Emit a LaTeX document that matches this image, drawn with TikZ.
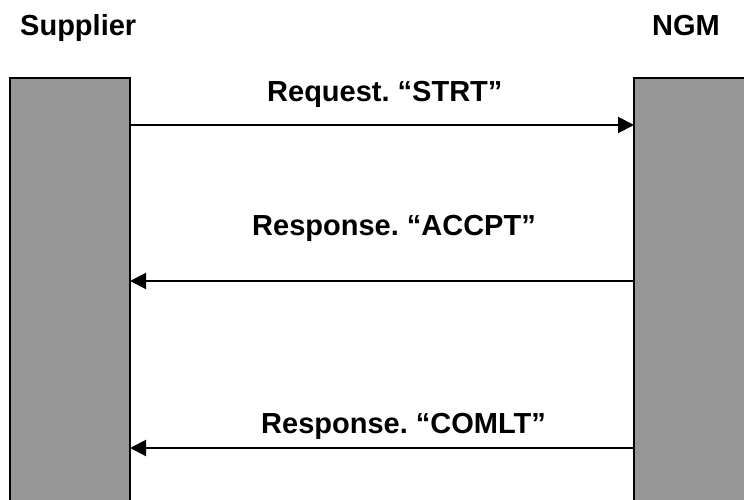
\documentclass[tikz,border=0pt]{standalone}
\usepackage{fontspec}
\setmainfont{Liberation Sans}
\usetikzlibrary{arrows.meta}
\definecolor{barfill}{HTML}{969696}
\frenchspacing
\tikzset{
  lifebar/.style={fill=barfill, draw=none},
  barline/.style={line width=2pt, line cap=rect},
  msg/.style={line width=2pt, -{Triangle[length=16pt,width=16pt]}},
  lbl/.style={anchor=base west, inner sep=0pt, font=\fontsize{29}{34}\selectfont\bfseries},
}
\begin{document}
\begin{tikzpicture}[x=1pt,y=-1pt]
  \useasboundingbox (0,0) rectangle (744,500);

  % participant headings
  \node[lbl] (supplier) at (20,36) {Supplier};
  \node[lbl] (ngm) at (652,36) {NGM};

  % lifeline bars (they run off the page edges)
  \fill[lifebar] (10,78) rectangle (130,502);
  \draw[barline] (10,502) -- (10,78) -- (130,78) -- (130,502);
  \fill[lifebar] (634,78) rectangle (746,502);
  \draw[barline] (634,502) -- (634,78) -- (746,78);

  % message anchor points on the bars
  \coordinate (s1) at (130,125);
  \coordinate (n1) at (634,125);
  \coordinate (s2) at (130,281);
  \coordinate (n2) at (634,281);
  \coordinate (s3) at (130,448);
  \coordinate (n3) at (634,448);

  % messages
  \draw[msg] (s1) -- (n1);
  \draw[msg] (n2) -- (s2);
  \draw[msg] (n3) -- (s3);

  \node[lbl] (m1) at (267,102) {Request. “STRT”};
  \node[lbl] (m2) at (252,235) {Response. “ACCPT”};
  \node[lbl] (m3) at (261,433) {Response. “COMLT”};
\end{tikzpicture}
\end{document}
